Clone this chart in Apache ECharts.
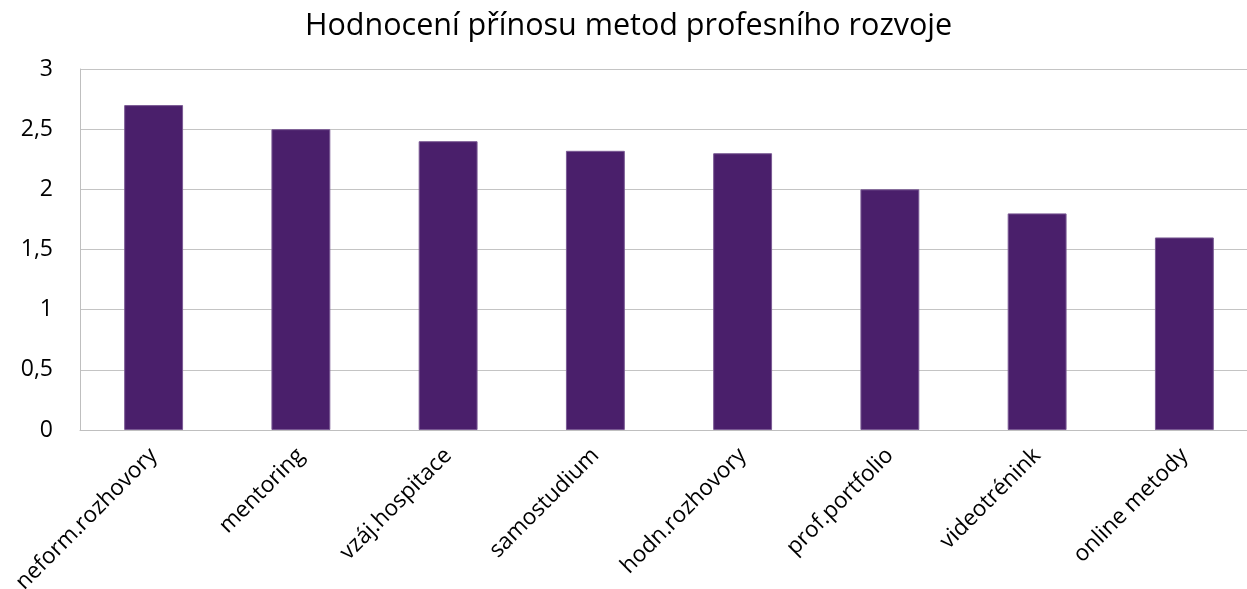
<!DOCTYPE html>
<html>
<head>
<meta charset="utf-8">
<script src="https://cdn.jsdelivr.net/npm/echarts@6/dist/echarts.min.js"></script>
<style>
  html, body { margin: 0; padding: 0; background: #fff; }
  #chart { width: 1247px; height: 589px; }
</style>
</head>
<body>
<div id="chart"></div>
<script>
// Methods of professional development and their average rated benefit
const categories = [
  'neform.rozhovory', 'mentoring', 'vzáj.hospitace', 'samostudium',
  'hodn.rozhovory', 'prof.portfolio', 'videotrénink', 'online metody'
];
const ratings = [2.7, 2.5, 2.4, 2.32, 2.3, 2.0, 1.8, 1.6];
const titleText = 'Hodnocení přínosu metod profesního rozvoje';

const FONT = '"Open Sans", "Noto Sans", sans-serif';
const chart = echarts.init(document.getElementById('chart'), null, { renderer: 'canvas' });

chart.setOption({
  animation: false,
  backgroundColor: '#ffffff',
  title: {
    text: titleText,
    left: 300,
    top: 6,
    textStyle: { fontFamily: FONT, fontSize: 30.5, fontWeight: 'normal', color: '#000' }
  },
  // the plot runs slightly past the right edge of the canvas
  grid: {
    left: 80, right: -11, top: 69, bottom: 159,
    containLabel: false,
    outerBoundsMode: 'none'
  },
  xAxis: {
    type: 'category',
    data: categories,
    axisLine: { show: true, lineStyle: { color: '#bfbfbf', width: 1 } },
    axisTick: { show: false },
    axisLabel: {
      rotate: 45,
      margin: 22,
      fontFamily: FONT,
      fontSize: 22.5,
      color: '#000'
    }
  },
  yAxis: {
    type: 'value',
    min: 0,
    max: 3,
    interval: 0.5,
    axisLine: { show: true, lineStyle: { color: '#bfbfbf', width: 1 } },
    axisTick: { show: false },
    splitLine: { lineStyle: { color: '#c4c4c4', width: 1 } },
    axisLabel: {
      margin: 27,
      fontFamily: FONT,
      fontSize: 23,
      color: '#000',
      formatter: v => String(v).replace('.', ',')
    }
  },
  series: [{
    type: 'bar',
    data: ratings,
    barWidth: '40%',
    itemStyle: { color: '#4a1f6b', borderColor: '#7a5a94', borderWidth: 1 }
  }]
});
</script>
</body>
</html>
